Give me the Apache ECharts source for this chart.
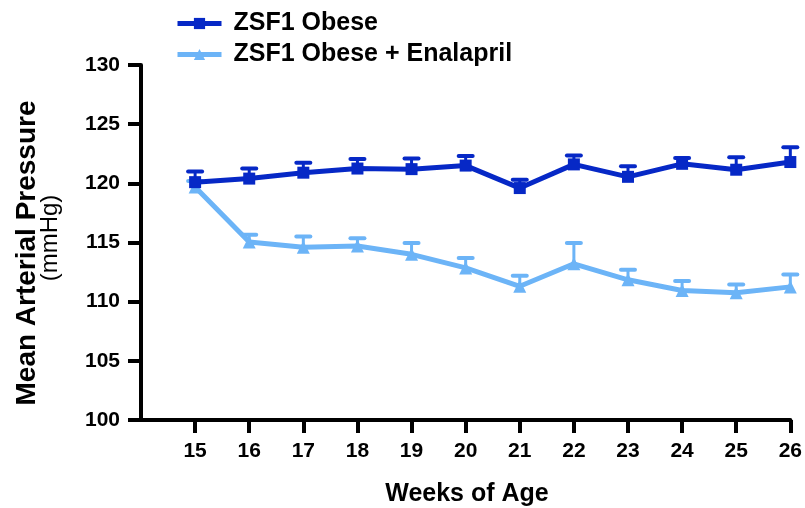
<!DOCTYPE html>
<html>
<head>
<meta charset="utf-8">
<script src="https://cdn.jsdelivr.net/npm/echarts@6/dist/echarts.min.js"></script>
<style>
  html, body { margin: 0; padding: 0; background: #fff; }
  #chart { width: 805px; height: 508px; }
</style>
</head>
<body>
<div id="chart"></div>
<script>
// weeks of age
const weeks = [15, 16, 17, 18, 19, 20, 21, 22, 23, 24, 25, 26];
// ZSF1 Obese mean + upper SEM
const obese = [120.1, 120.4, 120.9, 121.25, 121.2, 121.5, 119.6, 121.6, 120.55, 121.65, 121.15, 121.8];
const obeseErr = [0.9, 0.85, 0.85, 0.8, 0.9, 0.8, 0.7, 0.75, 0.9, 0.5, 1.05, 1.25];
// ZSF1 Obese + Enalapril
const enal = [119.7, 115.05, 114.6, 114.7, 114.0, 112.85, 111.3, 113.2, 111.85, 110.95, 110.75, 111.25];
const enalErr = [0.5, 0.6, 0.9, 0.65, 0.95, 0.85, 0.9, 1.75, 0.85, 0.8, 0.7, 1.05];
const yTicks = [100, 105, 110, 115, 120, 125, 130];

const dark = '#0628c6';
const light = '#6cb4f7';
const font = 'Liberation Sans, Arial, sans-serif';

function pairs(vals) {
  return weeks.map((w, i) => [w, vals[i]]);
}
function errData(vals, errs) {
  return weeks.map((w, i) => [w, vals[i], vals[i] + errs[i]]);
}
function errSeries(vals, errs, color) {
  return {
    type: 'custom',
    z: 1,
    silent: true,
    data: errData(vals, errs),
    renderItem: function (params, api) {
      const p0 = api.coord([api.value(0), api.value(1)]);
      const p1 = api.coord([api.value(0), api.value(2)]);
      const hw = 7;
      return {
        type: 'group',
        children: [
          { type: 'line', shape: { x1: p0[0], y1: p0[1], x2: p1[0], y2: p1[1] },
            style: { stroke: color, lineWidth: 3 } },
          { type: 'line', shape: { x1: p1[0] - hw, y1: p1[1], x2: p1[0] + hw, y2: p1[1] },
            style: { stroke: color, lineWidth: 4, lineCap: 'round' } }
        ]
      };
    }
  };
}

const chart = echarts.init(document.getElementById('chart'));
chart.setOption({
  animation: false,
  grid: { left: 141, right: 13, top: 65, bottom: 88 },
  legend: {
    orient: 'vertical',
    left: 170,
    top: 6,
    itemWidth: 44,
    itemHeight: 14,
    itemGap: 6,
    lineStyle: { width: 5 },
    textStyle: { fontFamily: font, fontWeight: 'bold', fontSize: 25, color: '#000',
                 padding: [0, 0, 0, 7] },
    data: ['ZSF1 Obese', 'ZSF1 Obese + Enalapril']
  },
  xAxis: {
    type: 'value',
    min: 14, max: 26, interval: 1,
    splitLine: { show: false },
    axisLine: { lineStyle: { color: '#000', width: 4 } },
    axisTick: { length: 13, customValues: weeks, lineStyle: { color: '#000', width: 4 } },
    axisLabel: {
      fontFamily: font, fontWeight: 'bold', fontSize: 21, color: '#000', margin: 21,
      customValues: weeks
    }
  },
  yAxis: {
    type: 'value',
    min: yTicks[0], max: yTicks[yTicks.length - 1], interval: 5,
    splitLine: { show: false },
    axisLine: { show: true, lineStyle: { color: '#000', width: 4 } },
    axisTick: { show: true, length: 13, lineStyle: { color: '#000', width: 4 } },
    axisLabel: { fontFamily: font, fontWeight: 'bold', fontSize: 21, color: '#000', margin: 21 }
  },
  graphic: [
    { type: 'text', x: 27, y: 253, rotation: Math.PI / 2,
      style: { text: 'Mean Arterial Pressure', font: 'bold 28px ' + font, fill: '#000',
               align: 'center', verticalAlign: 'middle' } },
    { type: 'text', x: 50, y: 238, rotation: Math.PI / 2,
      style: { text: '(mmHg)', font: '24px ' + font, fill: '#000',
               align: 'center', verticalAlign: 'middle' } },
    { type: 'text', x: 467, y: 494,
      style: { text: 'Weeks of Age', font: 'bold 25px ' + font, fill: '#000',
               align: 'center', verticalAlign: 'middle' } }
  ],
  series: [
    errSeries(obese, obeseErr, dark),
    errSeries(enal, enalErr, light),
    {
      name: 'ZSF1 Obese', type: 'line', z: 3,
      data: pairs(obese),
      symbol: 'rect', symbolSize: 12,
      lineStyle: { color: dark, width: 5 },
      itemStyle: { color: dark }
    },
    {
      name: 'ZSF1 Obese + Enalapril', type: 'line', z: 2,
      data: pairs(enal),
      symbol: 'triangle', symbolSize: 13,
      lineStyle: { color: light, width: 5 },
      itemStyle: { color: light }
    }
  ]
});
</script>
</body>
</html>
